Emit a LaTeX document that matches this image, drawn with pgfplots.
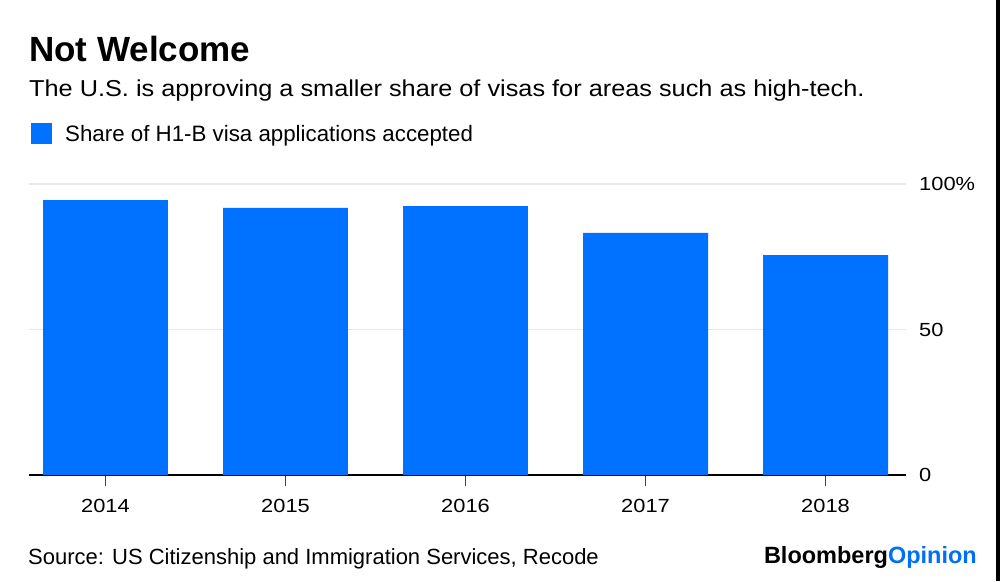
\documentclass[border=0pt]{standalone}
\usepackage{fontspec}
\setmainfont{Liberation Sans}
\newfontfamily\widefont[FakeStretch=1.15]{Liberation Sans}
\newfontfamily\subfont[FakeStretch=1.1]{Liberation Sans}
\usepackage{pgfplots}
\pgfplotsset{compat=1.18}
\definecolor{barblue}{RGB}{0,114,255}
\definecolor{gridgray}{RGB}{232,232,232}
\definecolor{opblue}{RGB}{0,110,245}
\begin{document}
\begin{tikzpicture}[x=1pt,y=1pt]
\useasboundingbox (0,0) rectangle (1000,581);
\fill[white] (0,0) rectangle (1000,581);
\fill[black] (996,0) rectangle (1000,581);
\node[anchor=base west, inner sep=0pt, font=\fontsize{35}{40}\selectfont\bfseries] at (29,519) {Not Welcome};
\node[anchor=base west, inner sep=0pt, font=\fontsize{23}{27}\subfont] at (29,484) {The U.S. is approving a smaller share of visas for areas such as high-tech.};
\fill[barblue] (31,437) rectangle (52,458);
\node[anchor=base west, inner sep=0pt, font=\fontsize{22.3}{26}\selectfont] at (65,439) {Share of H1-B visa applications accepted};
\node[anchor=base west, inner sep=0pt, font=\fontsize{22}{26}\selectfont] at (28,17) {Source: US Citizenship and Immigration Services, Recode};
\node[anchor=base east, inner sep=0pt, font=\fontsize{23.5}{27}\selectfont\bfseries] at (977,18) {Bloomberg\textcolor{opblue}{Opinion}};
\begin{axis}[
  at={(29pt,106pt)}, anchor=south west,
  scale only axis, width=877pt, height=291pt,
  xmin=-0.425, xmax=4.447, ymin=0, ymax=100,
  axis x line=bottom, axis y line=right,
  x axis line style={-, black, line width=1.6pt},
  y axis line style={draw=none},
  xtick={0,1,2,3,4},
  xticklabels={2014,2015,2016,2017,2018},
  ytick={0,50,100},
  yticklabels={0,50,100\%},
  tick align=outside,
  xtick style={draw=black!75, line width=1.2pt},
  major tick length=11pt,
  ytick style={draw=none},
  ymajorgrids,
  grid style={gridgray, line width=1.6pt},
  xticklabel style={font=\fontsize{19}{23}\widefont, anchor=north, inner sep=0pt, yshift=-13pt},
  yticklabel style={font=\fontsize{19}{23}\widefont, anchor=west, inner sep=0pt, xshift=2pt},
  clip=false,
]
\addplot[ybar, bar width=0.694, bar shift=0pt, fill=barblue, draw=none]
  coordinates {(0,94.5) (1,91.8) (2,92.4) (3,83.2) (4,75.6)};
\end{axis}
\end{tikzpicture}
\end{document}
